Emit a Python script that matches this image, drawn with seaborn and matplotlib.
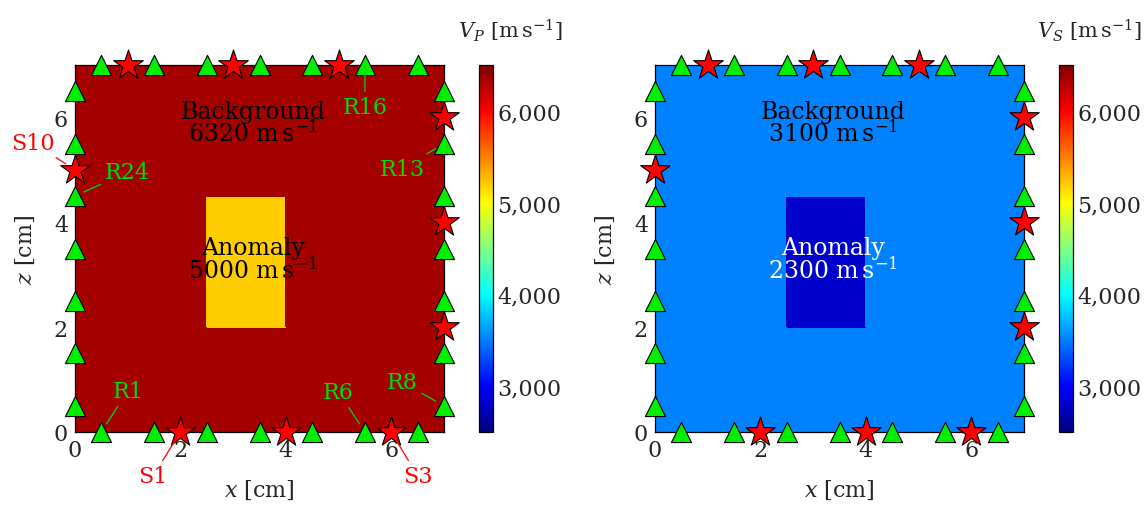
import numpy as np
import pandas as pd
import matplotlib
matplotlib.use("Agg")
import matplotlib.pyplot as plt
import seaborn as sns
from matplotlib.colors import LinearSegmentedColormap, Normalize
from matplotlib.cm import ScalarMappable
from matplotlib.ticker import FuncFormatter

# ---------------- data ----------------
domain = [0.0, 7.0]
anomaly_x = [2.5, 4.0]
anomaly_z = [2.0, 4.5]
vp_values = [6320, 5000]   # background, anomaly
vs_values = [3100, 2300]
cbar_range = [2500, 6500]
cbar_ticks = [3000, 4000, 5000, 6000]
xticks = [0, 2, 4, 6]
zticks = [0, 2, 4, 6]

# receivers R1..R28 (bottom L->R, right B->T, top R->L, left T->B)
rec_x = [0.5, 1.5, 2.5, 3.5, 4.5, 5.5, 6.5,
         7, 7, 7, 7, 7, 7, 7,
         6.5, 5.5, 4.5, 3.5, 2.5, 1.5, 0.5,
         0, 0, 0, 0, 0, 0, 0]
rec_z = [0, 0, 0, 0, 0, 0, 0,
         0.5, 1.5, 2.5, 3.5, 4.5, 5.5, 6.5,
         7, 7, 7, 7, 7, 7, 7,
         6.5, 5.5, 4.5, 3.5, 2.5, 1.5, 0.5]
# sources S1..S10
src_x = [2, 4, 6, 7, 7, 7, 5, 3, 1, 0]
src_z = [0, 0, 0, 2, 4, 6, 7, 7, 7, 5]

# labelled points: (kind, index 1-based, text x, text z)
left_labels = [("S", 10, -0.8, 5.52), ("R", 24, 1.0, 4.96), ("R", 16, 5.5, 6.2),
               ("R", 13, 6.2, 5.02), ("R", 1, 1.0, 0.78), ("S", 1, 1.48, -0.84),
               ("R", 6, 5.0, 0.76), ("R", 8, 6.2, 0.95), ("S", 3, 6.5, -0.84)]

# ---------------- style ----------------
sns.set_style("white")
plt.rcParams["font.family"] = ["DejaVu Serif"]
plt.rcParams["mathtext.fontset"] = "dejavuserif"

# pgfplots jet colormap
jet_pgf = LinearSegmentedColormap.from_list(
    "jetpgf",
    [(0.0, (0, 0, 128 / 255)), (1 / 8, (0, 0, 1)), (3 / 8, (0, 1, 1)),
     (5 / 8, (1, 1, 0)), (7 / 8, (1, 0, 0)), (1.0, (128 / 255, 0, 0))])
field_norm = Normalize(1950, 6480)

GREEN = "#00EE00"
GREEN_TXT = "#00DD00"
RED = "#FF0000"
FS = 16

W, H = 1148, 506
fig = plt.figure(figsize=(W / 100, H / 100), dpi=100)


def fax(l, b, w, h):
    return fig.add_axes([l / W, b / H, w / W, h / H])


axL = fax(75, 73, 369, 367)
cbL = fax(479, 73, 14, 367)
axR = fax(655, 73, 369, 367)
cbR = fax(1059, 73, 14, 367)

rec_df = pd.DataFrame({"x": rec_x, "z": rec_z})
src_df = pd.DataFrame({"x": src_x, "z": src_z})


def draw_panel(ax, cax, values, anomaly_color, cbar_label, labels, lab_x):
    xe = [domain[0], anomaly_x[0], anomaly_x[1], domain[1]]
    ze = [domain[0], anomaly_z[0], anomaly_z[1], domain[1]]
    bg, an = values
    grid = np.array([[bg, bg, bg], [bg, an, bg], [bg, bg, bg]], dtype=float)
    ax.pcolormesh(xe, ze, grid, cmap=jet_pgf, norm=field_norm, shading="flat",
                  edgecolors="face", linewidth=0.3)
    ax.set_xlim(domain)
    ax.set_ylim(domain)
    ax.set_aspect("auto")

    sns.scatterplot(data=rec_df, x="x", y="z", ax=ax, marker="^", s=210,
                    color=GREEN, edgecolor="black", linewidth=0.8,
                    clip_on=False, zorder=5, legend=False)
    sns.scatterplot(data=src_df, x="x", y="z", ax=ax, marker="*", s=500,
                    color=RED, edgecolor="black", linewidth=0.8,
                    clip_on=False, zorder=6, legend=False)

    ax.text(3.38, 5.9, "Background\n" + f"{bg:d}" + r" $\mathrm{m\,s^{-1}}$",
            ha="center", va="center", fontsize=FS + 1, color="black",
            linespacing=0.85, zorder=4)
    ax.text(3.38, 3.3, "Anomaly\n" + f"{an:d}" + r" $\mathrm{m\,s^{-1}}$",
            ha="center", va="center", fontsize=FS + 1, color=anomaly_color,
            linespacing=0.85, zorder=4)

    for kind, idx, tx, tz in labels:
        if kind == "R":
            px, pz, col = rec_x[idx - 1], rec_z[idx - 1], GREEN_TXT
            shrink = 7
        else:
            px, pz, col = src_x[idx - 1], src_z[idx - 1], RED
            shrink = 8
        ax.annotate(f"{kind}{idx}", xy=(px, pz), xytext=(tx, tz),
                    ha="center", va="center", fontsize=FS, color=col,
                    annotation_clip=False, zorder=7,
                    arrowprops=dict(arrowstyle="-", color=col, lw=0.9,
                                    shrinkA=1, shrinkB=shrink))

    ax.set_xticks(xticks)
    ax.set_yticks(zticks)
    ax.tick_params(direction="in", length=5, width=0.8, color="grey",
                   top=True, right=True, labelsize=FS, pad=5)
    ax.set_xlabel("$x$ [cm]", fontsize=FS, labelpad=12)
    ax.set_ylabel("$z$ [cm]", fontsize=FS, labelpad=12)
    for sp in ax.spines.values():
        sp.set_color("black")
        sp.set_linewidth(0.9)
        sp.set_zorder(3)

    sm = ScalarMappable(norm=Normalize(*cbar_range), cmap=jet_pgf)
    cb = fig.colorbar(sm, cax=cax)
    cb.set_ticks(cbar_ticks)
    cb.ax.yaxis.set_major_formatter(FuncFormatter(lambda v, p: f"{v:,.0f}"))
    cb.ax.tick_params(direction="in", length=4, width=0.8, color="grey",
                      labelsize=FS, pad=3, left=True)
    cb.outline.set_linewidth(0.9)
    cb.outline.set_edgecolor("black")
    fig.text(lab_x / W, 1 - 31 / H, cbar_label,
             ha="center", va="center", fontsize=FS - 1)


draw_panel(axL, cbL, vp_values, "black",
           r"$V_P$ [$\mathrm{m\,s^{-1}}$]", left_labels, 510)
draw_panel(axR, cbR, vs_values, "white",
           r"$V_S$ [$\mathrm{m\,s^{-1}}$]", [], 1089)

fig.savefig("out.png", dpi=100)
